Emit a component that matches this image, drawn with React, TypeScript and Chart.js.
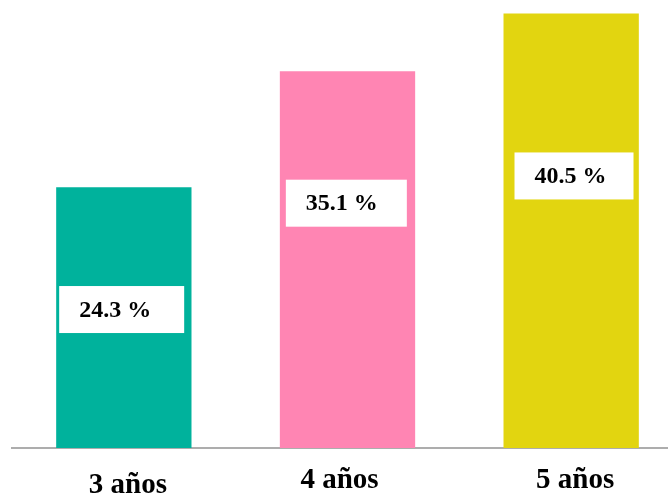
import React, { useEffect, useRef } from "react";
import { Chart, registerables } from "chart.js";

Chart.register(...registerables);

const categories = ["3 años", "4 años", "5 años"];
const values = [24.3, 35.1, 40.5];
const valueLabels = ["24.3 %", "35.1 %", "40.5 %"];
const barColors = ["#00B29C", "#FF85B3", "#E2D510"];

const SERIF = "'Liberation Serif', 'Times New Roman', Times, serif";

// box placement per bar (style only)
const boxStyle = [
  { dx: 3, w: 125, frac: 0.531 },
  { dx: 6, w: 121, frac: 0.65 },
  { dx: 11, w: 119, frac: 0.626 },
];

// category label nudges (style only)
const catLabelStyle = [
  { dx: 4, dy: 37.5 },
  { dx: -8, dy: 32.5 },
  { dx: 4, dy: 32.5 },
];

const valueBoxPlugin = {
  id: "valueBoxes",
  afterDatasetsDraw(chart: any) {
    const ctx = chart.ctx;
    const meta = chart.getDatasetMeta(0);
    const yScale = chart.scales.y;
    const base = yScale.getPixelForValue(0);
    ctx.save();
    meta.data.forEach((bar: any, i: number) => {
      const s = boxStyle[i];
      const left = bar.x - bar.width / 2 + s.dx;
      const top = bar.y;
      const cy = base - (base - top) * s.frac;
      const h = 47;
      ctx.fillStyle = "#ffffff";
      ctx.fillRect(left, cy - h / 2, s.w, h);
      ctx.fillStyle = "#000000";
      ctx.font = `bold 24px ${SERIF}`;
      ctx.textAlign = "left";
      ctx.textBaseline = "middle";
      ctx.fillText(valueLabels[i], left + 20, cy + 1);
    });
    ctx.restore();
  },
};

const categoryLabelPlugin = {
  id: "categoryLabels",
  afterDraw(chart: any) {
    const ctx = chart.ctx;
    const xScale = chart.scales.x;
    const bottom = chart.chartArea.bottom;
    ctx.save();
    ctx.fillStyle = "#000000";
    ctx.font = `bold 29px ${SERIF}`;
    ctx.textAlign = "center";
    ctx.textBaseline = "middle";
    categories.forEach((label, i) => {
      const s = catLabelStyle[i];
      ctx.fillText(label, xScale.getPixelForTick(i) + s.dx, bottom + s.dy);
    });
    ctx.restore();
  },
};

export default function App() {
  const ref = useRef<HTMLCanvasElement>(null);
  useEffect(() => {
    if (!ref.current) return;
    const chart = new Chart(ref.current, {
      type: "bar",
      data: {
        labels: categories,
        datasets: [
          {
            data: values,
            backgroundColor: barColors,
            borderWidth: 0,
            barPercentage: 0.605,
            categoryPercentage: 1,
          },
        ],
      },
      options: {
        responsive: false,
        animation: false,
        devicePixelRatio: 1,
        layout: { padding: { left: 12, right: 0, top: 0, bottom: 0 } },
        plugins: { legend: { display: false }, tooltip: { enabled: false } },
        scales: {
          x: {
            grid: { display: false, drawTicks: false },
            border: { display: true, color: "#ADADAD", width: 2 },
            ticks: {
              color: "#000000",
              padding: 17,
              font: { family: SERIF, size: 29, weight: "bold", lineHeight: "31px" as any },
            },
          },
          y: {
            display: false,
            min: 0,
            max: 41.75,
          },
        },
      },
      plugins: [valueBoxPlugin, categoryLabelPlugin],
    });
    // hide built-in tick labels but keep layout
    (chart.options.scales as any).x.ticks.color = "rgba(0,0,0,0)";
    chart.update();
    return () => chart.destroy();
  }, []);
  return (
    <div
      style={{
        position: "fixed",
        left: 0,
        top: 0,
        width: 668,
        height: 496,
        overflow: "hidden",
        background: "#ffffff",
      }}
    >
      <canvas ref={ref} width={683} height={513} style={{ width: 683, height: 513, display: "block" }} />
    </div>
  );
}
